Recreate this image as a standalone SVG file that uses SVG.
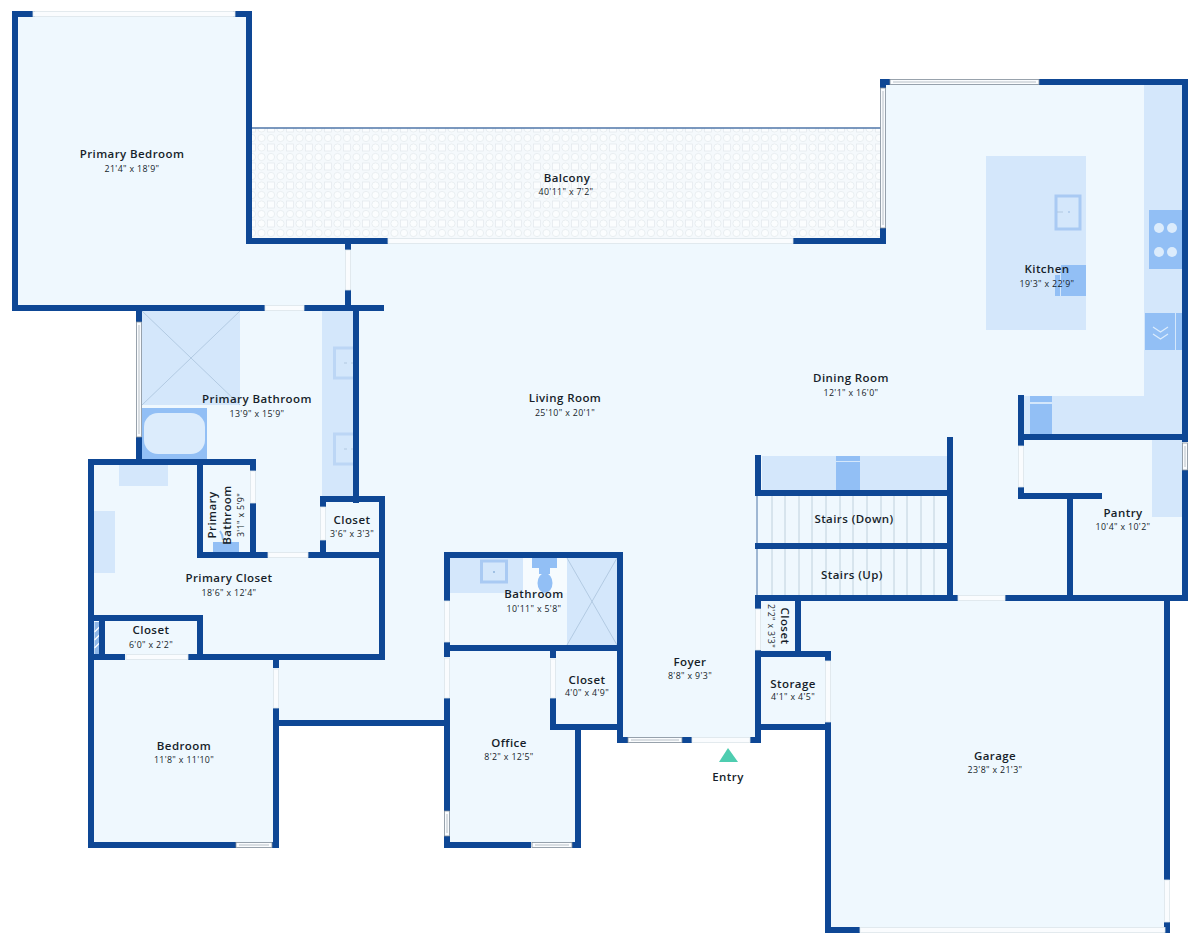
<svg xmlns="http://www.w3.org/2000/svg" width="1200" height="945" viewBox="0 0 1200 945">
<style>
.w{stroke:#0e4795;stroke-width:6;fill:none;stroke-linecap:square}
.c{fill:#d4e7fb}
.a{fill:#92bff5}
.o{fill:#d4e7fb;stroke:#a9caf3;stroke-width:3}
.x{stroke:#a9c3dc;stroke-width:.8;fill:none}
.d{fill:#fafcfe;stroke:#dde5ea;stroke-width:.8}
.g{fill:#fafcfe;stroke:#7f8c98;stroke-width:.8}
.gl{stroke:#a7b1ba;stroke-width:.8;fill:none}
.s{stroke:#b4c6d6;stroke-width:.8}
text{font-family:"Open Sans","Noto Sans",sans-serif;text-anchor:middle;fill:#161e2a}
.n{font-size:11.5px;font-weight:600;letter-spacing:.42px}
.m{font-size:8.8px;font-weight:500;letter-spacing:.35px}
</style>
<defs>
<pattern id="paver" width="19" height="19" patternUnits="userSpaceOnUse">
<rect width="19" height="19" fill="#f5f9fc"/>
<circle cx="5" cy="5" r="3.600" fill="#fbfdfe" stroke="#dfe5ea" stroke-width=".6"/>
<circle cx="14.500" cy="5" r="3.600" fill="#fbfdfe" stroke="#dfe5ea" stroke-width=".6"/>
<rect x="1.500" y="11" width="7" height="7" fill="#fbfdfe" stroke="#dfe5ea" stroke-width=".6"/>
<circle cx="14.500" cy="14.500" r="3.600" fill="#fbfdfe" stroke="#dfe5ea" stroke-width=".6"/>
</pattern>
</defs>
<rect width="1200" height="945" fill="#ffffff"/>
<polygon fill="#eff8fe" points="15,14 249,14 249,243 883,243 883,82 1185,82 1185,598 1167,598 1167,930 828,930 828,727 758,727 758,740 620,740 620,727 578,727 578,845 447,845 447,723 276,723 276,845 91,845 91,462 139,462 139,308 15,308"/>

<g id="fixtures">
<rect x="252" y="128" width="630" height="111" fill="url(#paver)"/>
<line x1="252" y1="128" x2="882" y2="128" stroke="#4f76a8" stroke-width="1.6"/>
<rect class="c" x="1144" y="85" width="39" height="350"/>
<rect class="c" x="1022" y="396" width="161" height="38"/>
<rect class="c" x="986" y="156" width="100" height="174"/>
<rect class="o" x="1056" y="196" width="24" height="33"/>
<circle cx="1069" cy="212" r=".8" fill="#8fb4dc"/><line x1="1057" y1="212" x2="1063" y2="212" class="x"/>
<rect class="a" x="1061" y="265" width="25" height="31"/><rect class="a" x="1055" y="275" width="5" height="21"/>
<rect class="a" x="1149" y="210" width="34" height="59"/>
<circle cx="1159" cy="228" r="5" fill="#dcecfc"/><circle cx="1172" cy="228" r="5" fill="#dcecfc"/><circle cx="1159" cy="252" r="5" fill="#dcecfc"/><circle cx="1172" cy="252" r="5" fill="#dcecfc"/>
<rect class="a" x="1145" y="313" width="30" height="37"/><rect class="a" x="1176" y="313" width="7" height="37"/>
<path d="M1153 327l7.500 5 7.500-5M1153 334l7.500 5 7.500-5" fill="none" stroke="#dcecfc" stroke-width="1.2"/>
<rect class="a" x="1030" y="404" width="22" height="30"/><rect class="a" x="1030" y="396" width="22" height="6"/>
<rect class="c" x="1152" y="440" width="31" height="77"/>
<rect class="c" x="762" y="456" width="185" height="35"/>
<rect class="a" x="836" y="462" width="24" height="29"/><rect class="a" x="836" y="456" width="24" height="5"/>
<g class="s">
<line x1="772" y1="496" x2="772" y2="544"/><line x1="785" y1="496" x2="785" y2="544"/><line x1="799" y1="496" x2="799" y2="544"/><line x1="812" y1="496" x2="812" y2="544"/><line x1="826" y1="496" x2="826" y2="544"/><line x1="840" y1="496" x2="840" y2="544"/><line x1="853" y1="496" x2="853" y2="544"/><line x1="867" y1="496" x2="867" y2="544"/><line x1="881" y1="496" x2="881" y2="544"/><line x1="894" y1="496" x2="894" y2="544"/><line x1="907" y1="496" x2="907" y2="544"/><line x1="921" y1="496" x2="921" y2="544"/><line x1="934" y1="496" x2="934" y2="544"/>
<line x1="772" y1="549" x2="772" y2="595"/><line x1="785" y1="549" x2="785" y2="595"/><line x1="799" y1="549" x2="799" y2="595"/><line x1="812" y1="549" x2="812" y2="595"/><line x1="826" y1="549" x2="826" y2="595"/><line x1="840" y1="549" x2="840" y2="595"/><line x1="853" y1="549" x2="853" y2="595"/><line x1="867" y1="549" x2="867" y2="595"/><line x1="881" y1="549" x2="881" y2="595"/><line x1="894" y1="549" x2="894" y2="595"/><line x1="907" y1="549" x2="907" y2="595"/><line x1="921" y1="549" x2="921" y2="595"/><line x1="934" y1="549" x2="934" y2="595"/>
</g>
<line x1="757" y1="495" x2="757" y2="597" stroke="#4f76a8" stroke-width="1"/>
<rect class="c" x="450" y="558" width="73" height="35"/>
<rect class="o" x="481.500" y="561" width="25" height="21"/><circle cx="494" cy="572" r="1" fill="#8fb4dc"/>
<rect fill="#fafcfe" x="523" y="558" width="44" height="35" opacity=".7"/>
<rect class="a" x="532" y="558" width="25" height="10"/><rect class="a" x="539" y="566" width="11" height="8"/><ellipse cx="545" cy="583" rx="7.500" ry="10" fill="#92bff5"/>
<rect class="c" x="567" y="558" width="50" height="87"/>
<path class="x" d="M567 645L617 558M567 558L617 645"/>
<rect class="c" x="142" y="311" width="98" height="94"/>
<path class="x" d="M142 311L240 405M142 405L240 311"/>
<rect class="a" x="142" y="408" width="65" height="51"/>
<rect x="144" y="413" width="61" height="41" rx="14" fill="#dcecfc"/>
<rect class="c" x="322" y="311" width="31" height="187"/>
<rect class="o" x="334.500" y="348" width="20" height="30" style="stroke:#bcd6f5"/><rect class="o" x="334.500" y="434" width="20" height="30" style="stroke:#bcd6f5"/>
<path class="x" d="M344 363h3M351 363h2M344 449h3M351 449h2"/>
<rect class="c" x="119" y="465" width="49" height="21"/>
<rect class="c" x="94" y="511" width="21" height="62"/>
<rect class="a" x="213" y="542" width="26" height="11"/>
<path d="M220 531q3 4 3 9" fill="none" stroke="#92bff5" stroke-width="2"/>
<rect x="94.500" y="622" width="5" height="32" fill="#8fb7e8"/>
<path d="M94.500 632l5-5M94.500 640l5-5M94.500 648l5-5" stroke="#fff" stroke-width="1.200"/>
</g>

<g id="walls">
<path class="w" d="M15 14V308M15 14H32M236 14H249M249 14V241M15 308H262M307 308H381M348 243V247M348 292V308"/>
<path class="w" d="M249 241H385M796 241H883M883 231V241M883 82V85M883 82H887M1042 82H1185M1185 82V439M1185 473V598"/>
<path class="w" d="M139 311V319M139 440V462M91 462H253M356 308V500M323 499H381M382 499V657M323 499V504M323 543V555M200 462V555M253 462V468M253 506V555M200 555H265M311 555H381"/>
<path class="w" d="M91 462V845M91 618H200M200 618V657M102 618V657M91 657H122M191 657H381M91 845H233M275 845H276M276 657V665M276 711V845M276 723H447"/>
<path class="w" d="M447 555V598M447 645V654M447 701V808M447 839V845M447 555H620M620 555V740M447 648H620M553 648V655M553 701V727M553 727H620M578 727V845M447 845H528M575 845H578M620 740H625M685 740H689M753 740H758"/>
<path class="w" d="M758 458V493M758 493H950M950 440V598M758 546H950M758 598H955M1008 598H1185M758 598V606M758 653V740M798 598V654M758 654H828M828 654V658M828 725V930M758 727H828M828 930H857M1167 598V877M1167 925V930"/>
<path class="w" d="M1070 496V598M1021 398V443M1021 490V496M1021 496H1099M1021 437H1185"/>
</g>

<g id="openings">
<rect class="d" x="33" y="11.500" width="202" height="5"/>
<rect class="d" x="265" y="305.500" width="39" height="5"/>
<rect class="d" x="345.500" y="250" width="5" height="40"/>
<rect class="d" x="388" y="238.500" width="405" height="5"/>
<rect class="g" x="880.500" y="88" width="5" height="140"/>
<rect class="g" x="890" y="79.500" width="149" height="5"/>
<rect class="g" x="1182.500" y="443" width="5" height="27"/>
<rect class="g" x="136.500" y="322" width="5" height="115"/>
<rect class="d" x="320.500" y="507" width="5" height="33"/>
<rect class="d" x="250.500" y="471" width="5" height="32"/>
<rect class="d" x="268" y="552.500" width="40" height="5"/>
<rect class="d" x="126" y="654.500" width="62" height="5"/>
<rect class="d" x="273.500" y="669" width="5" height="39"/>
<rect class="g" x="236" y="842.500" width="36" height="5"/>
<rect class="d" x="444.500" y="601" width="5" height="41"/>
<rect class="d" x="444.500" y="658" width="5" height="40"/>
<rect class="g" x="444.500" y="811" width="5" height="25"/>
<rect class="d" x="550.500" y="659" width="5" height="39"/>
<rect class="g" x="532" y="842.500" width="40" height="5"/>
<rect class="g" x="628" y="737.500" width="54" height="5"/>
<rect class="d" x="692" y="737.500" width="58" height="5"/>
<rect class="d" x="755.500" y="609" width="5" height="41"/>
<rect class="d" x="825.500" y="661" width="5" height="61"/>
<rect class="d" x="958" y="595.500" width="47" height="5"/>
<rect class="d" x="860" y="927.500" width="305" height="5"/>
<rect class="d" x="1164.500" y="880" width="5" height="42"/>
<rect class="d" x="1018.500" y="446" width="5" height="41"/>
<path class="gl" d="M883 91V225M893 82H1036M1185 446V467M139 325V434M239 845H269M447 814V833M535 845H569M631 740H679"/>
</g>

<g id="primary-bedroom"><text class="n" x="132" y="158">Primary Bedroom</text><text class="m" x="132" y="172">21'4" x 18'9"</text></g>
<g id="balcony"><text class="n" x="567" y="182">Balcony</text><text class="m" x="566" y="195">40'11" x 7'2"</text></g>
<g id="kitchen"><text class="n" x="1047" y="273">Kitchen</text><text class="m" x="1047" y="287">19'3" x 22'9"</text></g>
<g id="dining-room"><text class="n" x="851" y="382">Dining Room</text><text class="m" x="851" y="396">12'1" x 16'0"</text></g>
<g id="living-room"><text class="n" x="565" y="402">Living Room</text><text class="m" x="565" y="416">25'10" x 20'1"</text></g>
<g id="primary-bathroom"><text class="n" x="257" y="403">Primary Bathroom</text><text class="m" x="257" y="417">13'9" x 15'9"</text></g>
<g id="closet-1"><text class="n" x="352" y="524">Closet</text><text class="m" x="352" y="537">3'6" x 3'3"</text></g>
<g id="primary-bathroom-small" transform="rotate(-90 226 515)"><text class="n" x="226" y="505">Primary</text><text class="n" x="226" y="520">Bathroom</text><text class="m" x="226" y="533">3'1" x 5'9"</text></g>
<g id="primary-closet"><text class="n" x="229" y="582">Primary Closet</text><text class="m" x="229" y="596">18'6" x 12'4"</text></g>
<g id="closet-2"><text class="n" x="151" y="634">Closet</text><text class="m" x="151" y="648">6'0" x 2'2"</text></g>
<g id="bedroom"><text class="n" x="184" y="750">Bedroom</text><text class="m" x="184" y="763">11'8" x 11'10"</text></g>
<g id="bathroom"><text class="n" x="534" y="598">Bathroom</text><text class="m" x="534" y="612">10'11" x 5'8"</text></g>
<g id="closet-3"><text class="n" x="587" y="684">Closet</text><text class="m" x="587" y="696">4'0" x 4'9"</text></g>
<g id="office"><text class="n" x="509" y="747">Office</text><text class="m" x="509" y="760">8'2" x 12'5"</text></g>
<g id="foyer"><text class="n" x="690" y="666">Foyer</text><text class="m" x="690" y="679">8'8" x 9'3"</text></g>
<g id="entry"><polygon points="719,762 728,748 738,762" fill="#4ecdb0"/><text class="n" x="728" y="781">Entry</text></g>
<g id="stairs-down"><text class="n" x="854" y="523">Stairs (Down)</text></g>
<g id="stairs-up"><text class="n" x="852" y="579">Stairs (Up)</text></g>
<g id="closet-4" transform="rotate(90 779 626)"><text class="n" x="779" y="624">Closet</text><text class="m" x="779" y="637">2'2" x 3'3"</text></g>
<g id="storage"><text class="n" x="793" y="688">Storage</text><text class="m" x="793" y="700">4'1" x 4'5"</text></g>
<g id="garage"><text class="n" x="995" y="760">Garage</text><text class="m" x="995" y="773">23'8" x 21'3"</text></g>
<g id="pantry"><text class="n" x="1123" y="517">Pantry</text><text class="m" x="1123" y="530">10'4" x 10'2"</text></g>
</svg>
